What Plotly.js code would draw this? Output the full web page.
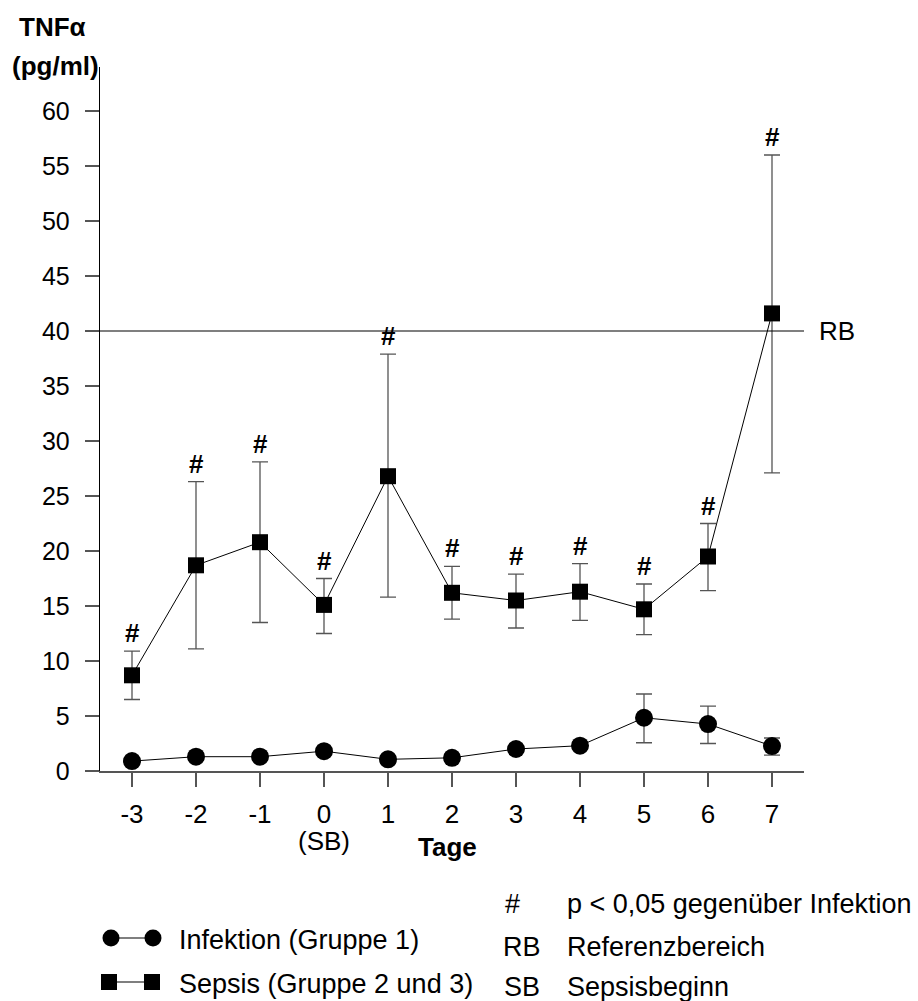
<!DOCTYPE html>
<html>
<head>
<meta charset="utf-8">
<script src="https://cdn.plot.ly/plotly-3.0.1.min.js"></script>
<style>html,body{margin:0;padding:0;background:#fff;}</style>
</head>
<body>
<div id="chart" style="width:918px;height:1001px;"></div>
<script>
// ---- data ----
var days = [-3, -2, -1, 0, 1, 2, 3, 4, 5, 6, 7];
var dayLabels = ['-3', '-2', '-1', '0', '1', '2', '3', '4', '5', '6', '7'];

var sepsisMean  = [8.7, 18.7, 20.8, 15.1, 26.8, 16.2, 15.5, 16.3, 14.7, 19.5, 41.6];
var sepsisUpper = [10.9, 26.3, 28.1, 17.5, 37.9, 18.6, 17.9, 18.85, 17.0, 22.5, 56.0];
var sepsisLower = [6.5, 11.1, 13.5, 12.5, 15.8, 13.8, 13.0, 13.7, 12.4, 16.4, 27.1];

var infMean  = [0.9, 1.3, 1.3, 1.8, 1.06, 1.2, 2.0, 2.3, 4.84, 4.27, 2.27];
var infUpper = [1.2, 1.6, 1.6, 2.1, 1.35, 1.5, 2.3, 2.6, 7.0, 5.9, 3.0];
var infLower = [0.6, 1.0, 1.0, 1.5, 0.77, 0.9, 1.7, 2.0, 2.57, 2.5, 1.45];

var sigFlags = [true, true, true, true, true, true, true, true, true, true, true];

var refValue = 40;
var refLabel = 'RB';
var xTitle = 'Tage';
var yTitleLines = ['TNFα', '(pg/ml)'];
var legendSeries = ['Infektion (Gruppe 1)', 'Sepsis (Gruppe 2 und 3)'];
var legendKeys = [['#', 'p < 0,05 gegenüber Infektion'], ['RB', 'Referenzbereich'], ['SB', 'Sepsisbeginn']];

// ---- helpers ----
function diffUp(top, mean) { return top.map(function (t, i) { return t - mean[i]; }); }
function diffDown(low, mean) { return low.map(function (l, i) { return mean[i] - l; }); }

var L = 100, R = 804, T = 67, B = 771;
function px(x) { return (x - L) / (R - L); }
function py(y) { return (B - y) / (B - T); }

var FONT = 'Liberation Sans, Arial, sans-serif';
var errColor = '#555';

var traces = [
  {
    x: days, y: sepsisMean, type: 'scatter', mode: 'lines+markers',
    line: {color: '#000', width: 1},
    marker: {symbol: 'square', size: 16, color: '#000'},
    error_y: {type: 'data', symmetric: false, array: diffUp(sepsisUpper, sepsisMean),
              arrayminus: diffDown(sepsisLower, sepsisMean), color: errColor, thickness: 1.3, width: 8},
    cliponaxis: false, showlegend: false, hoverinfo: 'x+y'
  },
  {
    x: days, y: infMean, type: 'scatter', mode: 'lines+markers',
    line: {color: '#000', width: 1},
    marker: {symbol: 'circle', size: 18, color: '#000'},
    error_y: {type: 'data', symmetric: false, array: diffUp(infUpper, infMean),
              arrayminus: diffDown(infLower, infMean), color: errColor, thickness: 1.3, width: 8},
    cliponaxis: false, showlegend: false, hoverinfo: 'x+y'
  }
];

var annotations = [];
days.forEach(function (d, i) {
  if (sigFlags[i]) {
    annotations.push({x: d, y: sepsisUpper[i], xref: 'x', yref: 'y', text: '<b>#</b>',
      showarrow: false, yanchor: 'bottom', yshift: 1, font: {family: FONT, size: 26, color: '#000'}});
  }
});
// RB label
annotations.push({x: px(817), xref: 'paper', y: refValue, yref: 'y', text: refLabel, showarrow: false,
  xanchor: 'left', yanchor: 'middle', font: {family: FONT, size: 26, color: '#000'}});
// (SB) under 0
annotations.push({x: 0, xref: 'x', y: py(841), yref: 'paper', text: '(SB)', showarrow: false, borderpad: 0,
  xanchor: 'center', yanchor: 'middle', font: {family: FONT, size: 26, color: '#000'}});
// x title
annotations.push({x: px(447), xref: 'paper', y: py(847), yref: 'paper', text: '<b>' + xTitle + '</b>', showarrow: false,
  xanchor: 'center', yanchor: 'middle', font: {family: FONT, size: 26, color: '#000'}});
// y title
annotations.push({x: px(52), xref: 'paper', y: py(27), yref: 'paper', text: '<b>' + yTitleLines[0] + '</b>', showarrow: false,
  xanchor: 'center', yanchor: 'middle', font: {family: FONT, size: 26, color: '#000'}});
annotations.push({x: px(55), xref: 'paper', y: py(66), yref: 'paper', text: '<b>' + yTitleLines[1] + '</b>', showarrow: false,
  xanchor: 'center', yanchor: 'middle', font: {family: FONT, size: 26, color: '#000'}});
// legend series texts
annotations.push({x: px(177), xref: 'paper', y: py(940), yref: 'paper', text: legendSeries[0], showarrow: false,
  xanchor: 'left', yanchor: 'middle', font: {family: FONT, size: 27, color: '#000'}});
annotations.push({x: px(177), xref: 'paper', y: py(984), yref: 'paper', text: legendSeries[1], showarrow: false,
  xanchor: 'left', yanchor: 'middle', font: {family: FONT, size: 27, color: '#000'}});
// legend keys
var keyY = [904, 947, 987];
legendKeys.forEach(function (k, i) {
  annotations.push({x: px(i === 0 ? 512 : 522), xref: 'paper', y: py(keyY[i]), yref: 'paper', text: k[0], showarrow: false,
    xanchor: 'center', yanchor: 'middle', font: {family: FONT, size: 27, color: '#000'}});
  annotations.push({x: px(565), xref: 'paper', y: py(keyY[i]), yref: 'paper', text: k[1], showarrow: false,
    xanchor: 'left', yanchor: 'middle', font: {family: FONT, size: 27, color: '#000'}});
});

var shapes = [
  {type: 'line', xref: 'paper', x0: 0, x1: 1, yref: 'y', y0: refValue, y1: refValue,
   line: {color: '#000', width: 1.2}},
  // legend: circle - line - circle
  {type: 'line', xref: 'paper', yref: 'paper', x0: px(111), x1: px(153), y0: py(938), y1: py(938),
   line: {color: '#555', width: 1.5}},
  {type: 'circle', xref: 'paper', yref: 'paper', xsizemode: 'pixel', ysizemode: 'pixel',
   xanchor: px(111), yanchor: py(938), x0: -8.5, x1: 8.5, y0: -8.5, y1: 8.5, fillcolor: '#000', line: {width: 0}},
  {type: 'circle', xref: 'paper', yref: 'paper', xsizemode: 'pixel', ysizemode: 'pixel',
   xanchor: px(153), yanchor: py(938), x0: -8.5, x1: 8.5, y0: -8.5, y1: 8.5, fillcolor: '#000', line: {width: 0}},
  // legend: square - line - square
  {type: 'line', xref: 'paper', yref: 'paper', x0: px(109), x1: px(152), y0: py(982), y1: py(982),
   line: {color: '#555', width: 1.5}},
  {type: 'rect', xref: 'paper', yref: 'paper', xsizemode: 'pixel', ysizemode: 'pixel',
   xanchor: px(109), yanchor: py(982), x0: -8, x1: 8, y0: -8, y1: 8, fillcolor: '#000', line: {width: 0}},
  {type: 'rect', xref: 'paper', yref: 'paper', xsizemode: 'pixel', ysizemode: 'pixel',
   xanchor: px(152), yanchor: py(982), x0: -8, x1: 8, y0: -8, y1: 8, fillcolor: '#000', line: {width: 0}}
];

var layout = {
  width: 918, height: 1001,
  margin: {l: L, r: 918 - R, t: T, b: 1001 - B},
  paper_bgcolor: '#fff', plot_bgcolor: '#fff',
  font: {family: FONT, size: 25, color: '#000'},
  showlegend: false,
  xaxis: {
    range: [-3.5, 7.5], tickmode: 'array', tickvals: days, ticktext: dayLabels,
    showgrid: false, zeroline: false, showline: true, linecolor: '#555', linewidth: 1.5,
    ticks: 'outside', ticklen: 14, tickcolor: '#555', tickwidth: 1.3,
    ticklabelstandoff: 5,
    tickfont: {family: FONT, size: 26, color: '#000'}
  },
  yaxis: {
    range: [0, 64], tickmode: 'linear', tick0: 0, dtick: 5,
    showgrid: false, zeroline: false, showline: true, linecolor: '#000', linewidth: 1.3,
    ticks: 'outside', ticklen: 14, tickcolor: '#555', tickwidth: 1.3,
    ticklabelstandoff: 10,
    tickfont: {family: FONT, size: 25, color: '#000'}
  },
  annotations: annotations,
  shapes: shapes
};

Plotly.newPlot('chart', traces, layout, {displayModeBar: false, staticPlot: true});
</script>
</body>
</html>
